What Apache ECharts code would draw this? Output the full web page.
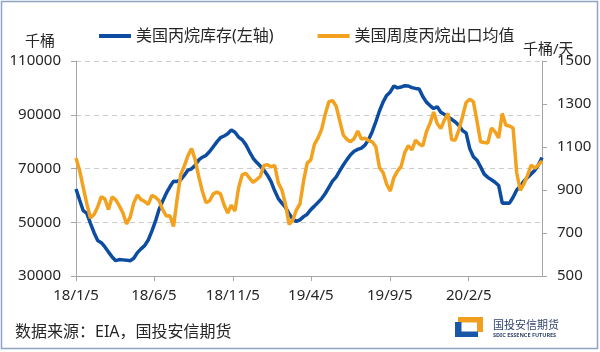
<!DOCTYPE html>
<html>
<head>
<meta charset="utf-8">
<script src="https://cdn.jsdelivr.net/npm/echarts@6/dist/echarts.min.js"></script>
<style>
  html, body { margin: 0; padding: 0; background: #fff; }
  #main { width: 600px; height: 352px; }
</style>
</head>
<body>
<div id="main"></div>
<script>
// weekly data, first week 2018-01-05
const startDate = '2018-01-05';
const tickDates = ['2018-01-05', '2018-06-05', '2018-11-05', '2019-04-05', '2019-09-05', '2020-02-05'];
const tickLabels = ['18/1/5', '18/6/5', '18/11/5', '19/4/5', '19/9/5', '20/2/5'];

// 美国丙烷库存 (千桶)
const stocks = [
  62400, 58300, 54300, 53300, 49600, 46100, 43200, 42400, 40800, 38900,
  37100, 35700, 36100, 36000, 35900, 35700, 36600, 38700, 40100, 41300,
  43400, 46700, 50400, 54800, 57900, 60800, 63200, 65300, 65200, 65800,
  67500, 69400, 69900, 71200, 73200, 74200, 74900, 76300, 78100, 79900,
  81500, 82100, 82900, 84300, 83500, 81700, 80700, 78900, 76300, 73900,
  72300, 70900, 69400, 67500, 65100, 61700, 58800, 57100, 55500, 53200,
  51200, 50300, 50900, 52100, 53000, 54700, 56000, 57400, 58800, 60700,
  63000, 65300, 66800, 69100, 71300, 73300, 75100, 76400, 77100, 77600,
  78700, 80800, 83700, 87400, 91400, 94700, 97200, 98500, 100700, 100000,
  100300, 100800, 100700, 100100, 99800, 99600, 96800, 94700, 93400, 92300,
  93000, 90900, 90100, 89200, 88300, 87300, 86000, 84100, 83200, 77400,
  74400, 73100, 70600, 67900, 66700, 65800, 64900, 63700, 57100, 57200,
  57100, 59300, 62000, 63400, 65300, 66700, 68000, 69300, 71300, 74100
];

// 美国周度丙烷出口均值 (千桶/天)
const exportsAvg = [
  1049, 991, 912, 835, 770, 786, 821, 869, 858, 809,
  868, 854, 826, 793, 742, 774, 840, 877, 855, 847,
  833, 875, 866, 850, 809, 779, 780, 730, 858, 972,
  1012, 1060, 1093, 1040, 961, 893, 841, 850, 882, 890,
  882, 830, 793, 830, 802, 909, 970, 978, 956, 936,
  948, 963, 1014, 1018, 1008, 1015, 933, 900, 833, 740,
  760, 807, 835, 942, 1025, 1040, 1112, 1142, 1182, 1254,
  1311, 1316, 1291, 1223, 1155, 1135, 1125, 1139, 1174, 1137,
  1141, 1130, 1124, 1101, 1005, 981, 927, 895, 958, 988,
  1010, 1074, 1107, 1086, 1132, 1114, 1105, 1171, 1210, 1263,
  1208, 1186, 1226, 1256, 1134, 1133, 1180, 1242, 1307, 1322,
  1311, 1221, 1124, 1121, 1118, 1188, 1171, 1142, 1256, 1201,
  1198, 1188, 979, 898, 928, 968, 1016, 1002, 1016, 1036
];

const seriesNames = ['美国丙烷库存(左轴)', '美国周度丙烷出口均值'];

function toTs(s) {
  const p = s.split('-');
  return Date.UTC(+p[0], +p[1] - 1, +p[2]);
}
const WEEK = 7 * 24 * 3600 * 1000;
const t0 = toTs(startDate);
const tickTs = tickDates.map(toTs);
const tEnd = t0 + (stocks.length - 1) * WEEK;

const font = 'Noto Sans, Noto Sans CJK SC, sans-serif';
const axisColor = '#a6a6a6';
const textColor = '#262626';

const chart = echarts.init(document.getElementById('main'));
chart.setOption({
  animation: false,
  backgroundColor: '#fff',
  textStyle: { fontFamily: font },
  grid: { left: 76, right: 58, top: 61, bottom: 76, containLabel: false },
  legend: {
    left: 94, top: 23,
    icon: 'rect', itemWidth: 32, itemHeight: 4, itemGap: 44,
    textStyle: { fontSize: 16, color: textColor, fontFamily: font },
    data: seriesNames
  },
  xAxis: {
    type: 'value',
    min: t0, max: tEnd,
    splitLine: { show: false },
    axisLine: { onZero: false, lineStyle: { color: axisColor, width: 1 } },
    axisTick: { customValues: tickTs, length: 5, lineStyle: { color: axisColor } },
    axisLabel: {
      customValues: tickTs,
      margin: 12, fontSize: 15, color: textColor, fontFamily: font,
      formatter: v => tickLabels[tickTs.indexOf(v)]
    }
  },
  yAxis: [
    {
      type: 'value', min: 30000, max: 110000, interval: 20000,
      axisLine: { show: true, lineStyle: { color: axisColor } },
      axisTick: { show: true, length: 5, lineStyle: { color: axisColor } },
      axisLabel: { margin: 15, fontSize: 15, color: textColor, fontFamily: font, formatter: v => String(v) },
      splitLine: { show: true, lineStyle: { color: '#cccccc', type: [5, 4], width: 1 } }
    },
    {
      type: 'value', min: 500, max: 1500, interval: 200, position: 'right',
      axisLine: { show: true, lineStyle: { color: axisColor } },
      axisTick: { show: true, length: 5, lineStyle: { color: axisColor } },
      axisLabel: { margin: 15, fontSize: 15, color: textColor, fontFamily: font, formatter: v => String(v) },
      splitLine: { show: false }
    }
  ],
  series: [
    {
      name: seriesNames[0], type: 'line', yAxisIndex: 0,
      showSymbol: false, symbol: 'none',
      lineStyle: { color: '#0d4da1', width: 3.5 },
      itemStyle: { color: '#0d4da1' },
      data: stocks.map((v, i) => [t0 + i * WEEK, v])
    },
    {
      name: seriesNames[1], type: 'line', yAxisIndex: 1,
      showSymbol: false, symbol: 'none',
      lineStyle: { color: '#f2a21f', width: 3.5 },
      itemStyle: { color: '#f2a21f' },
      data: exportsAvg.map((v, i) => [t0 + i * WEEK, v])
    }
  ],
  graphic: [
    { type: 'rect', shape: { x: 1.5, y: 1.5, width: 596, height: 347 },
      style: { fill: 'none', stroke: '#8fa4c4', lineWidth: 1.5 }, silent: true },
    { type: 'text', left: 25, top: 34,
      style: { text: '千桶', fontSize: 15, fill: textColor, fontFamily: font } },
    { type: 'text', left: 523, top: 42,
      style: { text: '千桶/天', fontSize: 15, fill: textColor, fontFamily: font } },
    { type: 'text', left: 15, top: 324,
      style: { text: '数据来源：EIA，国投安信期货', fontSize: 16, fill: textColor, fontFamily: font } },
    // logo
    { type: 'rect', shape: { x: 458, y: 317, width: 25, height: 5.5 }, style: { fill: '#f0a01e' } },
    { type: 'rect', shape: { x: 477, y: 317, width: 6, height: 15 }, style: { fill: '#f0a01e' } },
    { type: 'rect', shape: { x: 455, y: 322, width: 6.5, height: 15 }, style: { fill: '#1a56a8' } },
    { type: 'rect', shape: { x: 455, y: 331.5, width: 23, height: 5.5 }, style: { fill: '#1a56a8' } },
    { type: 'text', left: 493, top: 320,
      style: { text: '国投安信期货', fontSize: 11, fill: '#34466e', fontFamily: font } },
    { type: 'text', left: 493, top: 333,
      style: { text: 'SDIC ESSENCE FUTURES', fontSize: 5.5, fontWeight: 'bold', fill: '#34466e', fontFamily: font } }
  ]
});
</script>
</body>
</html>
